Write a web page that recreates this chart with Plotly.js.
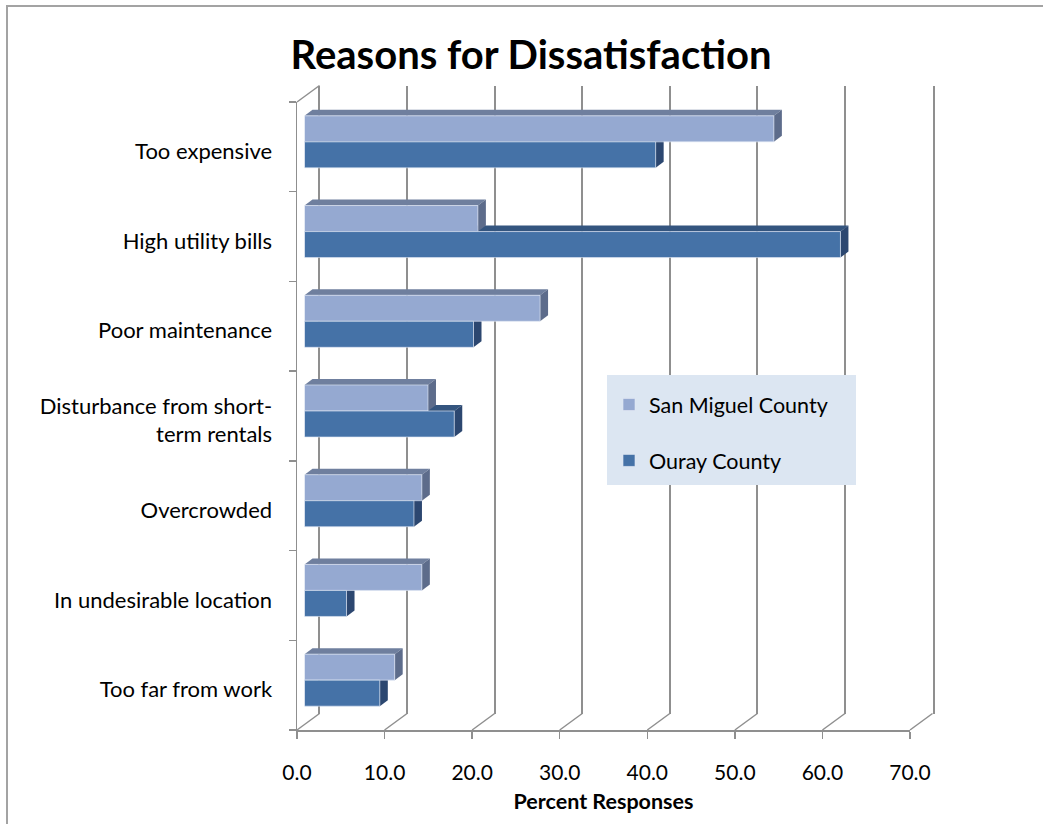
<!DOCTYPE html>
<html>
<head>
<meta charset="utf-8">
<script src="https://cdn.plot.ly/plotly-3.0.1.min.js"></script>
<style>
  html, body { margin: 0; padding: 0; background: #ffffff; }
  #chart { width: 1043px; height: 824px; }
</style>
</head>
<body>
<div id="chart"></div>
<script>
// ---- data ----
const categories = [
  'Too expensive',
  'High utility bills',
  'Poor maintenance',
  'Disturbance from short-<br>term rentals',
  'Overcrowded',
  'In undesirable location',
  'Too far from work'
];
const sanMiguel = [53.6, 19.8, 26.9, 14.1, 13.4, 13.4, 10.3];
const ouray     = [40.1, 61.2, 19.3, 17.1, 12.5, 4.8, 8.6];
const seriesNames = ['San Miguel County', 'Ouray County'];
const xTicks = [0, 10, 20, 30, 40, 50, 60, 70];

// ---- geometry of the pseudo-3D box (pixels) ----
const W = 1043, H = 824;
const FRONT = { x0: 297, x1: 910, y0: 102, y1: 730 };   // front plane: labels + ticks
const BACK = { dx: 22.5, dy: 16.5 };                     // back wall offset (grid)
const BARS = { dx: 7.5, dy: 5 };                         // plane the bar fronts sit in
const FACE = { dx: 8, dy: 6 };                           // visible bar depth
const XMAX = 70;
const nCat = categories.length;
const pxPerX = (FRONT.x1 - FRONT.x0) / XMAX;
const pxPerCat = (FRONT.y1 - FRONT.y0) / nCat;
const catIdx = categories.map((_, i) => i);
const yRange = [nCat - 0.5, -0.5];
const BAR_W = 0.29;
const LABEL_NUDGE = 0.05;   // category labels sit slightly below the row centre

const GRID = '#8f8f8f';
const COLORS = {
  sm:    { front: '#95a9d1', top: '#6f7f9e', end: '#5d6c8b' },
  ouray: { front: '#4572a7', top: '#34557f', end: '#2c4770' }
};
const FONT = 'Lato, "Open Sans", sans-serif';

function xdom(off) {
  return [(FRONT.x0 + off) / W, (FRONT.x1 + off) / W];
}
function ydom(off) {
  return [1 - (FRONT.y1 - off) / H, 1 - (FRONT.y0 - off) / H];
}

// ---- bar traces (bar plane, x2/y2) ----
const offsets = [-BAR_W, 0];
const traces = [sanMiguel, ouray].map((vals, s) => ({
  type: 'bar',
  orientation: 'h',
  name: seriesNames[s],
  x: vals,
  y: catIdx,
  width: BAR_W,
  offset: offsets[s],
  xaxis: 'x2',
  yaxis: 'y2',
  legendgroup: 'g' + s,
  marker: {
    color: s === 0 ? COLORS.sm.front : COLORS.ouray.front,
    line: { color: 'rgba(225,232,244,0.8)', width: 0.8 }
  },
  hoverinfo: 'skip'
}));

// empty carriers so the wall, front and frame subplots are laid out
[['x', 'y'], ['x3', 'y3'], ['x3', 'y5'], ['x4', 'y4']].forEach(([xa, ya]) => {
  traces.push({
    type: 'scatter', mode: 'markers', x: [null], y: [null],
    xaxis: xa, yaxis: ya, showlegend: false, hoverinfo: 'skip'
  });
});

// ---- shaded top / end faces of each bar, in bar-plane data units ----
const ddx = FACE.dx / pxPerX;
const ddy = FACE.dy / pxPerCat;
const shapes = [];
[[ouray, COLORS.ouray, offsets[1]], [sanMiguel, COLORS.sm, offsets[0]]].forEach(([vals, col, off]) => {
  vals.forEach((v, i) => {
    const yt = i + off, yb = i + off + BAR_W;
    shapes.push({
      type: 'path', xref: 'x2', yref: 'y2', layer: 'below',
      path: `M0,${yt} L${v},${yt} L${v + ddx},${yt - ddy} L${ddx},${yt - ddy} Z`,
      fillcolor: col.top, line: { width: 0 }
    });
    shapes.push({
      type: 'path', xref: 'x2', yref: 'y2', layer: 'below',
      path: `M${v},${yt} L${v},${yb} L${v + ddx},${yb - ddy} L${v + ddx},${yt - ddy} Z`,
      fillcolor: col.end, line: { width: 0 }
    });
  });
});

// ---- floor / wall diagonals joining the front plane to the back wall (x4/y4) ----
const bdx = BACK.dx / pxPerX;
const bdy = BACK.dy / pxPerCat;
const PAD = 3;
const frameX = [-PAD / pxPerX, XMAX + (BACK.dx + PAD) / pxPerX];
const frameY = [nCat - 0.5 + PAD / pxPerCat, -0.5 - (BACK.dy + PAD) / pxPerCat];
xTicks.forEach(v => {
  shapes.push({
    type: 'line', xref: 'x4', yref: 'y4', layer: 'above',
    x0: v, y0: nCat - 0.5, x1: v + bdx, y1: nCat - 0.5 - bdy,
    line: { color: GRID, width: 1.5 }
  });
});
shapes.push({
  type: 'line', xref: 'x4', yref: 'y4', layer: 'above',
  x0: 0, y0: -0.5, x1: bdx, y1: -0.5 - bdy,
  line: { color: GRID, width: 1.5 }
});

// legend panel
shapes.push({
  type: 'rect', xref: 'paper', yref: 'paper', layer: 'above',
  x0: 607 / W, x1: 856 / W, y0: 1 - 485 / H, y1: 1 - 375 / H,
  fillcolor: '#dce6f2', line: { width: 0 }
});
// outer chart frame
shapes.push({
  type: 'rect', xref: 'paper', yref: 'paper', layer: 'below',
  x0: 7 / W, x1: 1.02, y0: -0.02, y1: 1 - 6 / H,
  fillcolor: 'rgba(0,0,0,0)', line: { color: '#a3a3a3', width: 2 }
});

const hidden = {
  showgrid: false, zeroline: false, showline: false,
  showticklabels: false, ticks: '', fixedrange: true
};

const layout = {
  width: W, height: H,
  margin: { l: 0, r: 0, t: 0, b: 0 },
  paper_bgcolor: '#ffffff',
  plot_bgcolor: 'rgba(0,0,0,0)',
  font: { family: FONT, color: '#000000', size: 22 },
  showlegend: true,
  hovermode: false,
  title: {
    text: 'Reasons for Dissatisfaction',
    x: 531 / W, xanchor: 'center', xref: 'paper',
    y: 1 - 55 / H, yanchor: 'middle', yref: 'paper',
    font: { family: FONT, size: 40, weight: 700, color: '#000000' }
  },
  legend: {
    x: 609 / W, xanchor: 'left',
    y: 1 - 384 / H, yanchor: 'top',
    bgcolor: 'rgba(0,0,0,0)', borderwidth: 0,
    traceorder: 'grouped', tracegroupgap: 25,
    font: { family: FONT, size: 21.5, color: '#000000' }
  },
  // back wall: vertical grid lines, wall edges at 0 and 70
  xaxis: Object.assign({}, hidden, {
    domain: xdom(BACK.dx), range: [0, XMAX], anchor: 'y',
    showgrid: true, gridcolor: GRID, gridwidth: 2,
    zeroline: true, zerolinecolor: GRID, zerolinewidth: 2,
    tickmode: 'array', tickvals: xTicks
  }),
  yaxis: Object.assign({}, hidden, {
    domain: ydom(BACK.dy), range: yRange, anchor: 'x',
    showline: true, mirror: true, linecolor: GRID, linewidth: 2
  }),
  // bar plane
  xaxis2: Object.assign({}, hidden, {
    domain: xdom(BARS.dx), range: [0, XMAX], anchor: 'y2'
  }),
  yaxis2: Object.assign({}, hidden, {
    domain: ydom(BARS.dy), range: yRange, anchor: 'x2'
  }),
  // front plane: tick labels, axis titles
  xaxis3: {
    domain: xdom(0), range: [0, XMAX], anchor: 'y3', fixedrange: true,
    tickmode: 'array', tickvals: xTicks, tickformat: '.1f',
    ticks: 'outside', ticklen: 7, tickwidth: 1.5, tickcolor: GRID,
    ticklabelstandoff: 16,
    showgrid: false, zeroline: false,
    showline: true, linecolor: GRID, linewidth: 1.5,
    tickfont: { family: FONT, size: 21, color: '#000000' },
    title: {
      text: 'Percent Responses', standoff: 11,
      font: { family: FONT, size: 21.5, weight: 700, color: '#000000' }
    }
  },
  yaxis3: {
    domain: ydom(0), range: yRange, anchor: 'x3', fixedrange: true,
    tickmode: 'array', tickvals: catIdx.map(i => i + LABEL_NUDGE), ticktext: categories,
    ticks: '', ticklabelstandoff: 19,
    showgrid: false, zeroline: false,
    showline: true, linecolor: GRID, linewidth: 1.5,
    tickfont: { family: FONT, size: 22, color: '#000000' }
  },
  // category boundary ticks on the front axis
  yaxis5: {
    overlaying: 'y3', anchor: 'x3', side: 'left', range: yRange, fixedrange: true,
    tickmode: 'array', tickvals: catIdx.concat([nCat]).map(i => i - 0.5),
    ticks: 'outside', ticklen: 7, tickwidth: 1.5, tickcolor: GRID,
    showticklabels: false, showgrid: false, zeroline: false, showline: false
  },
  // frame for the diagonal edges
  xaxis4: Object.assign({}, hidden, {
    domain: [(FRONT.x0 - PAD) / W, (FRONT.x1 + BACK.dx + PAD) / W],
    range: frameX, anchor: 'y4'
  }),
  yaxis4: Object.assign({}, hidden, {
    domain: [1 - (FRONT.y1 + PAD) / H, 1 - (FRONT.y0 - BACK.dy - PAD) / H],
    range: frameY, anchor: 'x4'
  }),
  shapes: shapes
};

Plotly.newPlot('chart', traces, layout, { displayModeBar: false, staticPlot: true });
</script>
</body>
</html>
